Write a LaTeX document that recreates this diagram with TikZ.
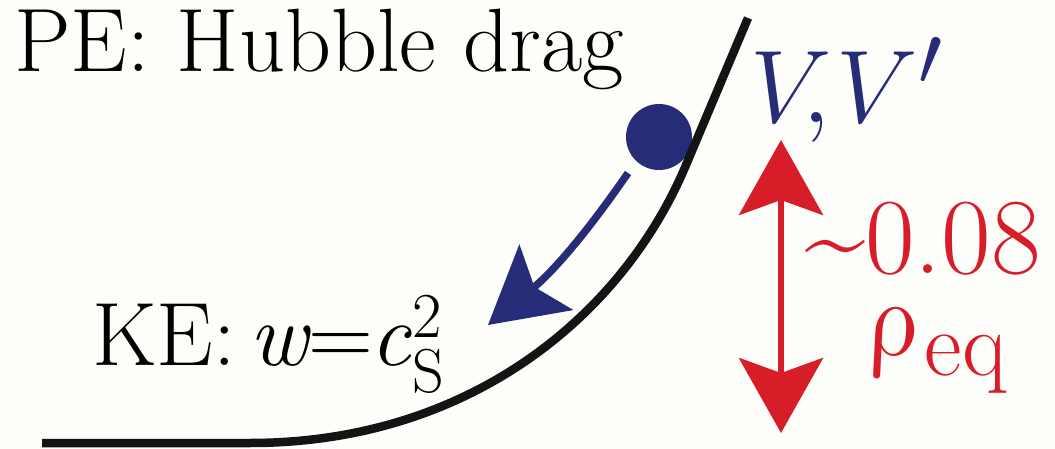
\documentclass[tikz,border=0pt]{standalone}
\usepackage{graphicx}
\usepackage{fontspec}
\usetikzlibrary{arrows.meta}
\definecolor{navy}{RGB}{38,44,120}
\definecolor{redc}{RGB}{215,30,40}
\definecolor{trackc}{RGB}{20,20,20}
\definecolor{bgc}{RGB}{253,253,249}
\begin{document}
\begin{tikzpicture}[x=1pt,y=-1pt,
  lbl/.style={anchor=base west, inner sep=0pt, font=\rmfamily\fontsize{90}{90}\selectfont},
  track/.style={line width=8.5pt, draw=trackc},
  >={Stealth[length=75pt,width=84pt,inset=15pt]},
  ballstyle/.style={circle, fill=navy, minimum size=66pt, inner sep=0pt},
  bluearrow/.style={draw=navy, line width=7.5pt, ->},
  redarrow/.style={draw=redc, line width=6pt, <->}
]
\fill[bgc] (0,0) rectangle (1055,449);
\useasboundingbox (0,0) rectangle (1055,449);
% ball
\node[ballstyle] (ball) at (659,137) {};
% track
\draw[track] (42,443) -- (250,443) .. controls (470,443) and (623,315) .. (686,165) -- (748,18);
% blue arrow
\coordinate (btail) at (628,173);
\coordinate (btip) at (488,325);
\draw[bluearrow] (btail) to[bend left=8] (btip);
% red arrow
\coordinate (rtop) at (781,140);
\coordinate (rbot) at (781,433);
\draw[redarrow] (rtop) -- (rbot);
% texts
\node[lbl] (pe) at (14,72) {PE: Hubble drag};
\node[lbl] (ke) at (92,365) {KE:\hspace{14pt}\textit{w}\hspace{-3pt}=\hspace{-3pt}\textit{c}\hspace{1pt}\rlap{\raisebox{28pt}{\fontsize{64}{64}\selectfont 2}}\raisebox{-27pt}{\fontsize{62}{62}\selectfont S}};
\node[lbl, text=navy, font=\rmfamily\fontsize{24.88}{25}\selectfont] (vv) at (750,123) {\scalebox{4.15}{$V\mkern-5mu{,}\mkern1mu V'$}};
\node[lbl, text=redc, font=\rmfamily\fontsize{108}{108}\selectfont, text depth=0pt] (num) at (805,273) {\textasciitilde 0.08};
\node[lbl, text=redc, font=\rmfamily\fontsize{24.88}{25}\selectfont, xslant=-0.2, text height=50pt, text depth=0pt] (rho) at (866,355) {\scalebox{4.4}{$\rho$}};
\node[lbl, text=redc, font=\rmfamily\fontsize{92}{92}\selectfont, text height=40pt] (eq) at ([xshift=3pt,yshift=-20pt]rho.base east) {eq};
\end{tikzpicture}
\end{document}
